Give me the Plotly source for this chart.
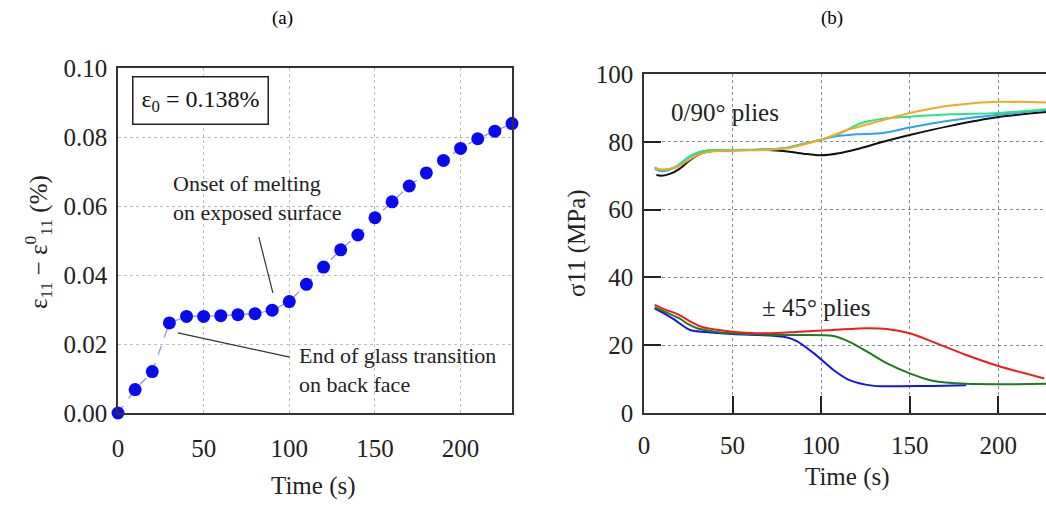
import plotly.graph_objects as go

W, H = 1046, 505
FONT = "Liberation Serif"

# ---------- Panel (a) data ----------
time_a = [0, 10, 20, 30, 40, 50, 60, 70, 80, 90, 100, 110, 120, 130, 140, 150,
          160, 170, 180, 190, 200, 210, 220, 230]
strain_a = [0.0, 0.0068, 0.0120, 0.0261, 0.0280, 0.0280, 0.0282, 0.0285, 0.0288,
            0.0298, 0.0323, 0.0373, 0.0423, 0.0473, 0.0516, 0.0566, 0.0612, 0.0658,
            0.0696, 0.0732, 0.0767, 0.0795, 0.0817, 0.0839]

# ---------- Panel (b) data ----------
t_black = [7, 10, 15, 20, 25, 30, 35, 40, 50, 60, 70, 80, 90, 100, 110, 120, 135, 150, 173, 200, 227]
s_black = [70.2, 70.0, 70.6, 72.0, 74.2, 76.0, 77.0, 77.3, 77.5, 77.6, 77.6, 77.2, 76.5, 76.0, 76.6, 77.8, 80.0, 82.0, 84.7, 87.3, 88.8]

t_orange = [6, 10, 18, 25, 30, 37, 50, 70, 80, 90, 100, 116, 135, 150, 170, 186, 200, 227]
s_orange = [72.1, 71.8, 72.4, 74.5, 76.1, 77.1, 77.4, 77.6, 78.0, 79.2, 80.6, 83.7, 86.4, 88.5, 90.5, 91.4, 91.8, 91.6]

t_spring = [6, 10, 18, 25, 30, 37, 50, 70, 80, 90, 100, 110, 122, 135, 150, 173, 200, 227]
s_spring = [72.5, 71.6, 72.7, 75.5, 76.8, 77.5, 77.6, 77.8, 78.2, 79.4, 80.7, 82.3, 85.4, 86.8, 87.4, 88.1, 88.5, 89.6]

t_sky = [6, 10, 18, 25, 30, 37, 50, 70, 80, 90, 100, 107, 120, 135, 150, 173, 200, 227]
s_sky = [72.0, 71.3, 72.5, 75.3, 76.7, 77.5, 77.5, 77.8, 78.2, 79.4, 80.6, 81.5, 82.2, 82.6, 84.2, 86.3, 88.0, 89.4]

t_red = [6, 12, 20, 26, 32, 40, 50, 70, 88, 107, 126, 137, 150, 163, 182, 201, 226]
s_red = [31.9, 30.5, 28.9, 27.0, 25.5, 24.6, 24.0, 23.5, 24.0, 24.5, 25.0, 24.8, 23.5, 21.0, 17.1, 13.7, 10.2]

t_green = [6, 12, 20, 25, 30, 40, 50, 79, 107, 116, 126, 137, 150, 163, 182, 227]
s_green = [31.2, 29.8, 27.9, 26.2, 25.0, 24.0, 23.5, 23.0, 22.7, 21.0, 18.1, 14.7, 11.7, 9.5, 8.6, 8.6]

t_blue = [6, 12, 17, 26, 35, 50, 79, 86, 96, 107, 116, 130, 145, 163, 182]
s_blue = [30.9, 29.2, 27.6, 24.5, 23.9, 23.3, 22.5, 21.3, 17.6, 12.7, 9.7, 8.0, 7.9, 8.0, 8.2]

fig = go.Figure()

# Panel (a)
fig.add_trace(go.Scatter(
    x=time_a, y=strain_a, mode="lines+markers", xaxis="x", yaxis="y",
    line=dict(color="#8c8cff", width=1.2, dash="dash"),
    marker=dict(color="#0a0af2", size=13),
    cliponaxis=False, showlegend=False))

# Panel (b)
for t, s, c in [(t_black, s_black, "#111111"), (t_sky, s_sky, "#2ea3ea"),
                (t_spring, s_spring, "#2de38a"), (t_orange, s_orange, "#f6a623"),
                (t_blue, s_blue, "#1414e6"), (t_green, s_green, "#1d7a1d"),
                (t_red, s_red, "#ee1c1c")]:
    fig.add_trace(go.Scatter(
        x=t, y=s, mode="lines", xaxis="x2", yaxis="y2",
        line=dict(color=c, width=2, shape="spline", smoothing=0.8),
        showlegend=False))

tickfont = dict(family=FONT, size=25, color="#222222")

ax_common = dict(showline=True, linecolor="#333333", linewidth=1.5,
                 tickfont=tickfont, zeroline=False, showgrid=True,
                 automargin=False)

fig.update_layout(
    width=W, height=H,
    margin=dict(l=0, r=0, t=0, b=0, autoexpand=False),
    paper_bgcolor="white", plot_bgcolor="white",
    xaxis=dict(domain=[118 / W, 512 / W], range=[0, 230], anchor="y",
               tickvals=[0, 50, 100, 150, 200], mirror=True, ticks="",
               gridcolor="#bdbdbd", griddash="dot", gridwidth=1,
               ticklabelstandoff=12, **ax_common),
    yaxis=dict(domain=[(H - 413) / H, (H - 68) / H], range=[0, 0.1], anchor="x",
               tickvals=[0, 0.02, 0.04, 0.06, 0.08, 0.10],
               ticktext=["0.00", "0.02", "0.04", "0.06", "0.08", "0.10"],
               mirror=True, ticks="",
               gridcolor="#bdbdbd", griddash="dot", gridwidth=1,
               ticklabelstandoff=4, **ax_common),
    xaxis2=dict(domain=[644 / W, 1.0], range=[0, 227], anchor="y2",
                tickvals=[0, 50, 100, 150, 200], mirror=True,
                ticks="inside", ticklen=17, tickcolor="#222222", tickwidth=1.5,
                gridcolor="#8a8a8a", griddash="dot", gridwidth=1,
                ticklabelstandoff=9, **ax_common),
    yaxis2=dict(domain=[(H - 413) / H, (H - 74) / H], range=[0, 100], anchor="x2",
                tickvals=[0, 20, 40, 60, 80, 100], mirror=False,
                ticks="inside", ticklen=17, tickcolor="#222222", tickwidth=1.5,
                gridcolor="#8a8a8a", griddash="dot", gridwidth=1,
                ticklabelstandoff=4, **ax_common),
)

txt = dict(family=FONT, size=22, color="#222222")
big = dict(family=FONT, size=25, color="#222222")


def pann(x, y, text, font, **kw):
    d = dict(x=x / W, y=1 - y / H, xref="paper", yref="paper", text=text,
             showarrow=False, font=font, xanchor="center", yanchor="middle")
    d.update(kw)
    return d


annotations = [
    # panel titles
    pann(282, 18, "(a)", dict(family=FONT, size=19, color="black")),
    pann(832, 18, "(b)", dict(family=FONT, size=19, color="black")),
    # axis titles
    pann(313, 486, "Time (s)", big),
    pann(38, 242, "ε<sub>11</sub> − ε<sup>0</sup><sub>11</sub> (%)", big, textangle=-90),
    pann(847, 477, "Time (s)", big),
    pann(577, 243, "σ11 (MPa)", big, textangle=-90),
    # legend-like box
    pann(200, 100.5, "ε<sub>0</sub> = 0.138%",
         dict(family=FONT, size=24, color="#111111"),
         bordercolor="#222222", borderwidth=1.5, borderpad=8, bgcolor="white"),
    # text annotations panel (a)
    dict(x=30.9, y=0.0623, xref="x", yref="y", xanchor="left", yanchor="middle",
         align="left", text="Onset of melting<br>on exposed surface",
         showarrow=False, font=txt),
    dict(x=104.4, y=0.0126, xref="x", yref="y", xanchor="left", yanchor="middle",
         align="left", text="End of glass transition<br>on back face",
         showarrow=False, font=txt),
    # panel (b) labels
    dict(x=14.1, y=88.5, xref="x2", yref="y2", xanchor="left", yanchor="middle",
         text="0/90° plies", showarrow=False, font=big),
    dict(x=65.5, y=31.0, xref="x2", yref="y2", xanchor="left", yanchor="middle",
         text="± 45° plies", showarrow=False, font=big),
]
fig.update_layout(annotations=annotations)

fig.update_layout(shapes=[
    dict(type="line", xref="x", yref="y", x0=82.2, y0=0.051, x1=90.4, y1=0.0348,
         line=dict(color="#333333", width=1.2)),
    dict(type="line", xref="x", yref="y", x0=35, y0=0.0232, x1=100.3, y1=0.0162,
         line=dict(color="#333333", width=1.2)),
])

fig.write_html("out.html")
